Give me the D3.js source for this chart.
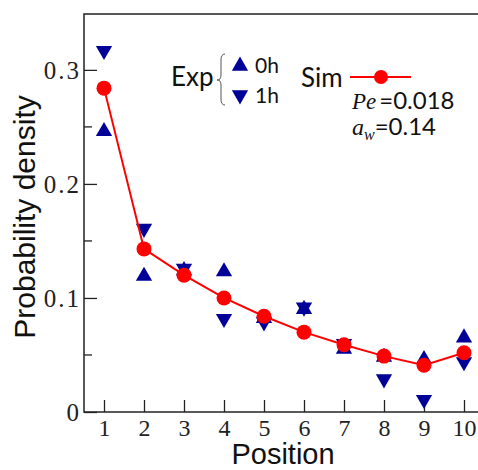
<!DOCTYPE html>
<html>
<head>
<meta charset="utf-8">
<script src="https://cdn.jsdelivr.net/npm/d3@7"></script>
<style>
  body { margin: 0; background: #fff; }
  svg { display: block; }
</style>
</head>
<body>
<div id="chart"></div>
<script>
// data
var positions = [1, 2, 3, 4, 5, 6, 7, 8, 9, 10];
var sim = [0.284, 0.143, 0.120, 0.100, 0.084, 0.070, 0.059, 0.049, 0.041, 0.052];
var exp0h = [0.247, 0.120, 0.125, 0.124, 0.083, 0.091, 0.056, 0.049, 0.047, 0.066];
var exp1h = [0.316, 0.160, 0.125, 0.081, 0.078, 0.091, 0.059, 0.028, 0.010, 0.043];
var yTicks = [0, 0.1, 0.2, 0.3];
var yMinor = [0.05, 0.15, 0.25];

var svgWidth = 478;
var svgHeight = 470;
var margin = { top: 14, left: 84 };
var width = 400;
var height = 398;

var svg = d3.select("#chart")
    .append("svg")
    .attr("width", svgWidth)
    .attr("height", svgHeight);

var chartGroup = svg.append("g")
    .attr("transform", `translate(${margin.left}, ${margin.top})`);

var xScale = d3.scaleLinear().domain([0.5, 10.5]).range([0, width]);
var yScale = d3.scaleLinear().domain([0, 0.349]).range([height, 0]);

// frame
chartGroup.append("rect")
    .attr("width", width)
    .attr("height", height)
    .attr("fill", "none")
    .attr("stroke", "#222")
    .attr("stroke-width", 1.5);

// x ticks (inward)
var bottomAxis = d3.axisBottom(xScale).tickValues(positions).tickSizeInner(-12).tickSizeOuter(0).tickPadding(7);
var xAxis = chartGroup.append("g")
    .attr("transform", `translate(0, ${height})`)
    .call(bottomAxis);
xAxis.select(".domain").remove();
xAxis.selectAll("line").attr("stroke", "#222").attr("stroke-width", 1.3);
xAxis.selectAll("text")
    .style("font-family", "'Liberation Serif', serif")
    .style("font-size", "24px")
    .attr("fill", "#222");

// y ticks (inward)
var leftAxis = d3.axisLeft(yScale).tickValues(yTicks).tickFormat(d => d === 0 ? "0" : d3.format(".1f")(d))
    .tickSizeInner(-13).tickSizeOuter(0).tickPadding(3);
var yAxis = chartGroup.append("g").call(leftAxis);
yAxis.select(".domain").remove();
yAxis.selectAll("line").attr("stroke", "#222").attr("stroke-width", 1.3);
yAxis.selectAll("text")
    .attr("dy", "0.35em")
    .style("font-family", "'Liberation Serif', serif")
    .style("font-size", "25px")
    .style("letter-spacing", "2px")
    .attr("fill", "#222");

chartGroup.selectAll(".minor")
    .data(yMinor)
    .enter()
    .append("line")
    .attr("x1", 0)
    .attr("x2", 8)
    .attr("y1", d => yScale(d))
    .attr("y2", d => yScale(d))
    .attr("stroke", "#222")
    .attr("stroke-width", 1.3);

// triangle shapes
var tri = d3.symbol().type(d3.symbolTriangle).size(115);

chartGroup.selectAll(".up")
    .data(exp0h)
    .enter()
    .append("path")
    .attr("d", tri)
    .attr("transform", (d, i) => `translate(${xScale(positions[i])}, ${yScale(d) + 1})`)
    .attr("fill", "#000099");

chartGroup.selectAll(".down")
    .data(exp1h)
    .enter()
    .append("path")
    .attr("d", tri)
    .attr("transform", (d, i) => `translate(${xScale(positions[i])}, ${yScale(d) - 1}) rotate(180)`)
    .attr("fill", "#000099");

// simulation line
var line = d3.line()
    .x((d, i) => xScale(positions[i]))
    .y(d => yScale(d));

chartGroup.append("path")
    .datum(sim)
    .attr("d", line)
    .attr("fill", "none")
    .attr("stroke", "#ff0000")
    .attr("stroke-width", 2);

chartGroup.selectAll(".sim")
    .data(sim)
    .enter()
    .append("circle")
    .attr("cx", (d, i) => xScale(positions[i]))
    .attr("cy", d => yScale(d))
    .attr("r", 7.5)
    .attr("fill", "#ff0000");

// axis titles
svg.append("text")
    .attr("transform", "translate(35, 217) rotate(-90)")
    .attr("text-anchor", "middle")
    .style("font-family", "'Liberation Sans', Arial, sans-serif")
    .style("font-size", "30px")
    .attr("fill", "#111")
    .text("Probability density");

svg.append("text")
    .attr("x", 283)
    .attr("y", 464)
    .attr("text-anchor", "middle")
    .style("font-family", "'Liberation Sans', Arial, sans-serif")
    .style("font-size", "29px")
    .attr("fill", "#111")
    .text("Position");

// legend
var legend = svg.append("g")
    .style("font-family", "Lato, 'Open Sans', sans-serif")
    .attr("fill", "#111");

legend.append("text").attr("x", 171).attr("y", 86).style("font-size", "26px").text("Exp");
legend.append("path")
    .attr("d", "M225,54 Q221,54 221,60 L221,75 Q221,80 217,80 Q221,80 221,85 L221,99 Q221,105 225,105")
    .attr("fill", "none")
    .attr("stroke", "#555")
    .attr("stroke-width", 1);
legend.append("path").attr("d", tri).attr("transform", "translate(240, 66)").attr("fill", "#000099");
legend.append("path").attr("d", tri).attr("transform", "translate(240, 95) rotate(180)").attr("fill", "#000099");
legend.append("text").attr("x", 255).attr("y", 73).style("font-size", "21px").text("0h");
legend.append("text").attr("x", 255).attr("y", 103).style("font-size", "21px").text("1h");

legend.append("text").attr("x", 301).attr("y", 87).style("font-size", "26px").text("Sim");
legend.append("line")
    .attr("x1", 350).attr("x2", 411).attr("y1", 77).attr("y2", 77)
    .attr("stroke", "#ff0000").attr("stroke-width", 2);
legend.append("circle").attr("cx", 381).attr("cy", 77).attr("r", 7).attr("fill", "#ff0000");

var pe = legend.append("text").attr("x", 352).attr("y", 109).style("font-size", "24px");
pe.append("tspan").style("font-family", "'Liberation Serif', serif").style("font-style", "italic").style("font-size", "23px").text("Pe");
pe.append("tspan").text("\u2009=0.018");

var aw = legend.append("text").attr("x", 352).attr("y", 135).style("font-size", "24px");
aw.append("tspan").style("font-family", "'Liberation Serif', serif").style("font-style", "italic").style("font-size", "24px").text("a");
aw.append("tspan").attr("dy", 5).style("font-family", "'Liberation Serif', serif").style("font-style", "italic").style("font-size", "16px").text("w");
aw.append("tspan").attr("dy", -5).text("=0.14");
</script>
</body>
</html>
